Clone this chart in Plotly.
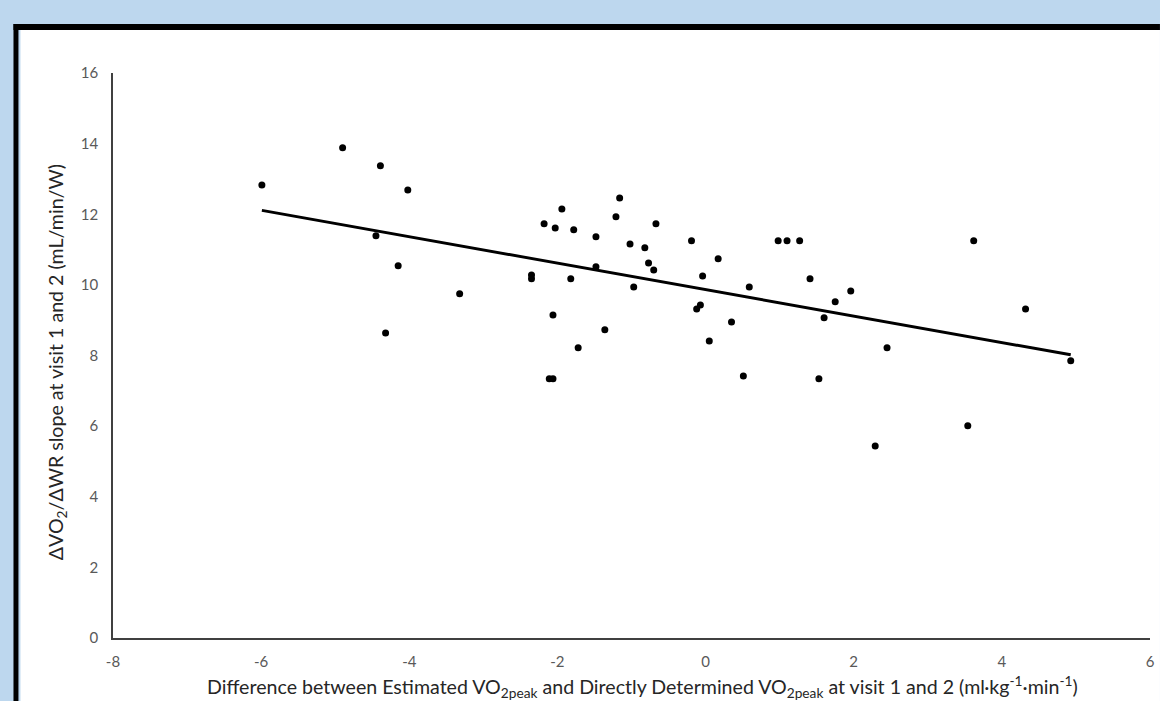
import numpy as np
import plotly.graph_objects as go

# Data
diff_vo2peak = [-5.99, -4.90, -4.39, -4.02, -4.45, -4.15, -4.32, -3.32,
                -2.35, -2.35, -2.18, -2.03, -1.94, -1.78, -2.06, -2.11, -2.06,
                -1.82, -1.72, -1.48, -1.48, -1.36, -1.21, -1.16, -1.02, -0.97,
                -0.82, -0.77, -0.70, -0.67, -0.19, -0.12, -0.07, -0.04, 0.05,
                0.17, 0.35, 0.51, 0.59, 0.98, 1.10, 1.27, 1.41, 1.53, 1.60,
                1.75, 1.96, 2.29, 2.45, 3.54, 3.62, 4.32, 4.93]
slope_vo2_wr = [12.83, 13.88, 13.37, 12.69, 11.39, 10.54, 8.64, 9.75,
                10.28, 10.17, 11.73, 11.61, 12.15, 11.56, 9.15, 7.34, 7.34,
                10.17, 8.22, 11.36, 10.51, 8.73, 11.93, 12.46, 11.16, 9.94,
                11.05, 10.62, 10.42, 11.73, 11.25, 9.32, 9.43, 10.25, 8.41,
                10.74, 8.95, 7.42, 9.94, 11.25, 11.25, 11.25, 10.17, 7.34, 9.07,
                9.52, 9.83, 5.44, 8.22, 6.01, 11.25, 9.32, 7.85]

x_ticks = [-8, -6, -4, -2, 0, 2, 4, 6]
x_tick_labels = ["-8", "-6", "-4", "-2", "0", "2", "4", "6"]
y_ticks = [0, 2, 4, 6, 8, 10, 12, 14, 16]
y_tick_labels = ["0", "2", "4", "6", "8", "10", "12", "14", "16"]

xa = np.array(diff_vo2peak)
ya = np.array(slope_vo2_wr)
m, c = np.polyfit(xa, ya, 1)
fit_x = [xa.min(), xa.max()]
fit_y = [m * v + c for v in fit_x]

W, H = 1160, 701
L, R, T, B = 113, 5, 73, 63
pw, ph = W - L - R, H - T - B


def px(x):
    return (x - L) / pw


def py(y):
    return (H - B - y) / ph


fig = go.Figure()
fig.add_trace(go.Scatter(x=fit_x, y=fit_y, mode="lines",
                         line=dict(color="black", width=3), hoverinfo="skip"))
fig.add_trace(go.Scatter(x=diff_vo2peak, y=slope_vo2_wr, mode="markers",
                         marker=dict(color="black", size=7)))

shapes = [
    dict(type="rect", xref="paper", yref="paper", x0=px(20), x1=px(W + 5),
         y0=py(H + 5), y1=py(30), fillcolor="white", line_width=0, layer="below"),
    dict(type="rect", xref="paper", yref="paper", x0=px(13), x1=px(W + 5),
         y0=py(30), y1=py(24), fillcolor="black", line_width=0, layer="below"),
    dict(type="rect", xref="paper", yref="paper", x0=px(13), x1=px(18),
         y0=py(H + 5), y1=py(24), fillcolor="black", line_width=0, layer="below"),
]

font_family = "Lato, 'Open Sans', sans-serif"
annotations = [
    dict(xref="paper", yref="paper", x=px(645), y=py(686), xanchor="center", yanchor="middle",
         text="Difference between Estimated VO<sub>2peak</sub> and Directly Determined VO<sub>2peak</sub>"
              " at visit 1 and 2 (ml·kg<sup>-1</sup>·min<sup>-1</sup>)",
         showarrow=False, font=dict(size=19.6, color="#262626", family=font_family)),
    dict(xref="paper", yref="paper", x=px(57), y=py(362), xanchor="center", yanchor="middle",
         text="ΔVO<sub>2</sub>/ΔWR slope at visit 1 and 2 (mL/min/W)", textangle=-90,
         showarrow=False, font=dict(size=19.6, color="#262626", family=font_family)),
]

fig.update_layout(
    width=W, height=H,
    margin=dict(l=L, r=R, t=T, b=B, pad=0),
    paper_bgcolor="#BDD7EE", plot_bgcolor="white",
    showlegend=False,
    shapes=shapes, annotations=annotations,
    font=dict(family=font_family, color="#595959", size=15),
)
fig.update_xaxes(range=[-8, 6], tickvals=x_ticks, ticktext=x_tick_labels,
                 showgrid=False, zeroline=False, ticklabeloverflow="allow",
                 showline=True, linecolor="#404040", linewidth=1.5, ticks="",
                 ticklabelstandoff=9, tickfont=dict(size=15, color="#595959"))
fig.update_yaxes(range=[0, 16], tickvals=y_ticks, ticktext=y_tick_labels,
                 showgrid=False, zeroline=False,
                 showline=True, linecolor="#404040", linewidth=1.5, ticks="",
                 ticklabelstandoff=10, tickfont=dict(size=15, color="#595959"))

fig.write_html("out.html", config={"displayModeBar": False},
               post_script="document.body.style.margin='0';")
